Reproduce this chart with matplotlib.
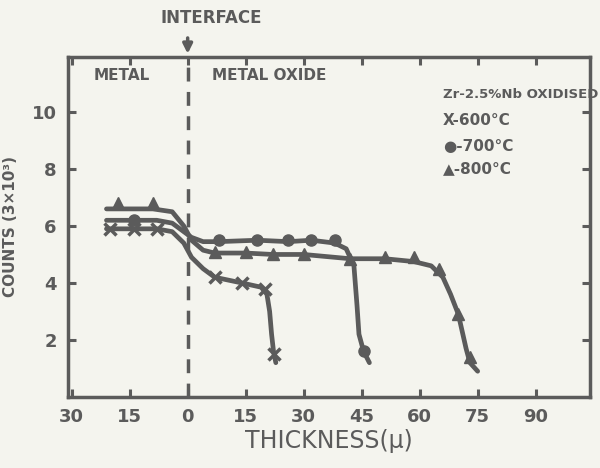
import matplotlib

matplotlib.use('Agg')
import matplotlib.pyplot as plt

INK = '#5b5b5b'
BG = '#f4f4ee'

# 600 C (X) - hand drawn curve points and marker points
x600 = [-21, -14, -8, -4, -1, 1, 4, 7, 14, 19, 20.5, 21.2, 21.7, 22.2, 22.8]
y600 = [5.9, 5.9, 5.9, 5.8, 5.4, 4.9, 4.5, 4.2, 4.0, 3.85, 3.6, 3.0, 2.2, 1.6, 1.2]
x600_mk = [-20, -14, -8, 7, 14, 20, 22.2]
y600_mk = [5.9, 5.9, 5.9, 4.2, 4.0, 3.8, 1.5]

# 700 C (circles)
x700 = [-21, -14, -8, -4, -1, 1, 4, 8, 18, 26, 32, 38, 41, 43, 43.8, 44.3, 45.5, 47]
y700 = [6.2, 6.2, 6.2, 6.1, 5.8, 5.6, 5.45, 5.45, 5.5, 5.45, 5.5, 5.4, 5.2, 4.6, 3.2, 2.2, 1.6, 1.2]
x700_mk = [-14, 8, 18, 26, 32, 38, 45.5]
y700_mk = [6.2, 5.5, 5.5, 5.5, 5.5, 5.5, 1.6]

# 800 C (triangles)
x800 = [-21, -14, -9, -4, -1, 1, 4, 7, 15, 22, 30, 42, 51, 58.5, 63, 66, 68, 70, 72, 73, 75]
y800 = [6.6, 6.6, 6.6, 6.5, 6.0, 5.5, 5.15, 5.05, 5.05, 5.0, 5.0, 4.85, 4.85, 4.75, 4.6, 4.2, 3.6, 2.9, 1.7, 1.2, 0.9]
x800_mk = [-18, -9, 7, 15, 22, 30, 42, 51, 58.5, 65, 70, 73]
y800_mk = [6.8, 6.8, 5.1, 5.1, 5.0, 5.0, 4.85, 4.9, 4.9, 4.5, 2.9, 1.4]

xticks = [-30, -15, 0, 15, 30, 45, 60, 75, 90]
xtick_labels = ['30', '15', '0', '15', '30', '45', '60', '75', '90']
yticks = [2, 4, 6, 8, 10]

fig = plt.figure(figsize=(6, 4.68), dpi=100, facecolor=BG)
ax = fig.add_axes([0.113, 0.152, 0.87, 0.726], facecolor=BG)

lw = 3.4
ax.plot(x600, y600, color=INK, lw=lw, solid_capstyle='round')
ax.plot(x700, y700, color=INK, lw=lw, solid_capstyle='round')
ax.plot(x800, y800, color=INK, lw=lw, solid_capstyle='round')
ax.plot(x600_mk, y600_mk, 'x', color=INK, ms=9, mew=2.5, ls='none')
ax.plot(x700_mk, y700_mk, 'o', color=INK, ms=8, ls='none')
ax.plot(x800_mk, y800_mk, '^', color=INK, ms=9, ls='none')

# interface line
ax.axvline(0, color=INK, lw=2.5, ls=(0, (4, 3)))
ax.annotate('', xy=(0, 11.95), xytext=(0, 12.7), xycoords='data',
            arrowprops=dict(arrowstyle='-|>', color=INK, lw=2.5, mutation_scale=14),
            annotation_clip=False)
ax.text(6, 13.0, 'INTERFACE', ha='center', va='bottom', color=INK,
        fontsize=12, fontweight='bold', clip_on=False)
ax.text(-17, 11.3, 'METAL', ha='center', va='center', color=INK, fontsize=11, fontweight='bold')
ax.text(21, 11.3, 'METAL OXIDE', ha='center', va='center', color=INK, fontsize=11, fontweight='bold')

ax.text(86, 10.6, 'Zr-2.5%Nb OXIDISED', ha='center', va='center', color=INK,
        fontsize=9.5, fontweight='bold')
ax.text(66, 9.7, 'X-600°C', ha='left', va='center', color=INK, fontsize=11, fontweight='bold')
ax.text(66, 8.8, '●-700°C', ha='left', va='center', color=INK, fontsize=11, fontweight='bold')
ax.text(66, 8.0, '▲-800°C', ha='left', va='center', color=INK, fontsize=11, fontweight='bold')

ax.set_xlim(-31, 104)
ax.set_ylim(0, 11.93)
ax.set_xticks(xticks)
ax.set_xticklabels(xtick_labels)
ax.set_yticks(yticks)
ax.tick_params(direction='in', length=6, width=2.2, color=INK, labelcolor=INK,
               top=True, right=True, labelsize=13, pad=8)
for lab in ax.get_xticklabels() + ax.get_yticklabels():
    lab.set_fontweight('bold')
for sp in ax.spines.values():
    sp.set_color(INK)
    sp.set_linewidth(2.5)

ax.set_xlabel('THICKNESS(μ)', color=INK, fontsize=17, labelpad=2)
ax.set_ylabel('COUNTS (3×10³)', color=INK, fontsize=11, fontweight='bold', labelpad=10)

fig.savefig('out.png', dpi=100, facecolor=BG)
